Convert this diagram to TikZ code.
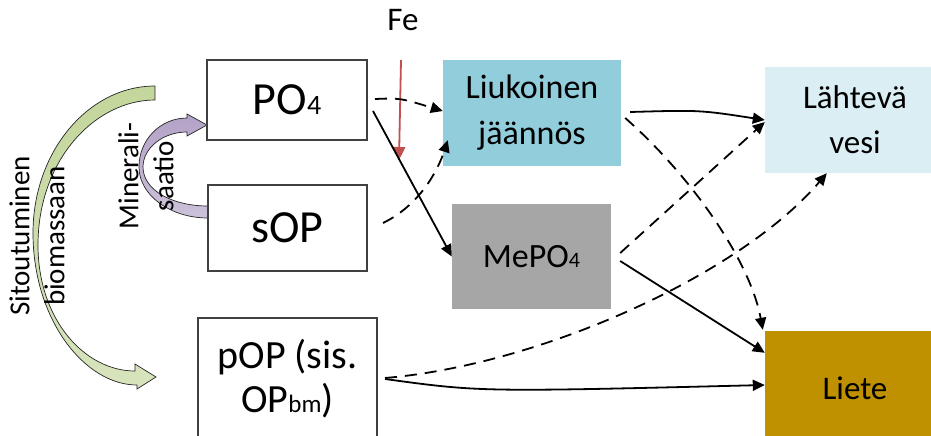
\documentclass[tikz,border=0pt]{standalone}
\usepackage{fontspec}
\setmainfont{Carlito}
\usetikzlibrary{arrows.meta,calc}
\definecolor{boxgray}{HTML}{404040}
\definecolor{liucol}{HTML}{92CDDC}
\definecolor{mecol}{HTML}{A6A6A6}
\definecolor{lahcol}{HTML}{DAEEF3}
\definecolor{lietecol}{HTML}{BF9000}
\definecolor{fered}{HTML}{C0504D}
\definecolor{greenA}{HTML}{C3D69B}
\definecolor{greenB}{HTML}{D7E4BD}
\definecolor{purpA}{HTML}{B3A2C7}
\definecolor{purpB}{HTML}{CCC1DA}
\begin{document}
\begin{tikzpicture}[x=1pt,y=-1pt,
  box/.style={draw=boxgray,line width=2pt,fill=white,inner sep=0pt,align=center},
  fbox/.style={inner sep=0pt,align=center},
  conn/.style={line width=1.8pt,-{Triangle[length=12pt,width=11pt]}},
  dconn/.style={conn,dash pattern=on 12pt off 8pt},
  bigtxt/.style={font=\fontsize{46}{50}\selectfont},
  midtxt/.style={font=\fontsize{34}{46}\selectfont},
  rottxt/.style={rotate=90,align=center,inner sep=0pt,font=\fontsize{29}{35}\selectfont},
  blockarrow/.style={draw=black!85,line width=0.7pt}
]
\useasboundingbox (0,0) rectangle (931,436);
\clip (0,0) rectangle (931,436);

% curved block arrows
\path[blockarrow,top color=greenA,bottom color=greenB]
  (155,86) .. controls (88,86) and (33,152) .. (33,233)
  .. controls (33,320) and (85,385) .. (137,385)
  -- (137,389) -- (156,377) -- (135,364) -- (135,371)
  .. controls (85,371) and (38,320) .. (38,245)
  .. controls (38,160) and (95,100) .. (155,100) -- cycle;
\path[blockarrow,top color=purpA,bottom color=purpB]
  (208,218) .. controls (170,218) and (139,195) .. (139,167)
  .. controls (139,140) and (160,118) .. (187,118)
  -- (187,114) -- (207,125) -- (187,136) -- (187,132)
  .. controls (163,132) and (143,148) .. (143,167)
  .. controls (143,190) and (172,206) .. (208,206) -- cycle;

% boxes
\node[box,minimum width=160pt,minimum height=80pt,bigtxt] (po4) at (287,100)
  {PO{\fontsize{28}{30}\selectfont 4}};
\node[box,minimum width=159pt,minimum height=86pt,bigtxt] (sop) at (287.5,228) {sOP};
\node[box,minimum width=179pt,minimum height=122pt,font=\fontsize{40}{44}\selectfont] (pop) at (287.5,379)
  {pOP (sis.\\OP{\fontsize{25}{27}\selectfont bm})};
\node[fbox,fill=liucol,minimum width=178pt,minimum height=106pt,midtxt] (liu) at (532,113)
  {Liukoinen\\jäännös};
\node[fbox,fill=mecol,minimum width=159pt,minimum height=105pt,midtxt] (mepo) at (531.5,256.5)
  {MePO{\fontsize{22}{24}\selectfont 4}};
\node[fbox,fill=lahcol,minimum width=180pt,minimum height=106pt,font=\fontsize{33}{45}\selectfont] (lah) at (855,120)
  {Lähtevä\\vesi};
\node[fbox,fill=lietecol,minimum width=180pt,minimum height=114pt,font=\fontsize{33}{45}\selectfont] (liete) at (855,388)
  {Liete};

% Fe
\node[inner sep=0pt,font=\fontsize{33}{36}\selectfont] (fe) at (403,20) {Fe};
\coordinate (fes) at (401,60);
\coordinate (fee) at (399,160);
\draw[line width=1.8pt,fered,-{Triangle[length=13pt,width=12pt]}] (fes) -- (fee);

% connectors
\draw[dconn] ($(po4.east)+(7,-1)$) .. controls (400,98) .. ($(liu.west)+(0,-2)$);
\draw[conn] ($(po4.east)+(5,11)$) -- (mepo.west);
\draw[dconn] ($(sop.east)+(15,-5)$) .. controls (420,205) and (438,170) .. ($(liu.south west)+(5,-26)$);
\draw[conn] ($(liu.east)+(9,-1)$) .. controls (700,110) .. (lah.west);
\draw[dconn] ($(liu.east)+(4,5)$) .. controls (690,175) and (750,260) .. ($(liete.north west)+(-2,-1)$);
\draw[dconn] ($(mepo.east)+(9,-3.5)$) -- ($(lah.west)+(0,2)$);
\draw[conn] ($(mepo.east)+(9,4.5)$) -- ($(liete.north west)+(0,22)$);
\draw[dconn] ($(pop.east)+(7,-1)$) .. controls (540,365) and (740,275) .. ($(lah.south west)+(62,0)$);
\draw[conn] ($(pop.east)+(7,0)$) .. controls (480,392) .. ($(liete.west)+(0,-3)$);

% rotated labels
\node[rottxt] (sit) at (37,236) {Sitoutuminen\\biomassaan};
\node[rottxt] (min) at (146,176) {Minerali-\\saatio};
\end{tikzpicture}
\end{document}
